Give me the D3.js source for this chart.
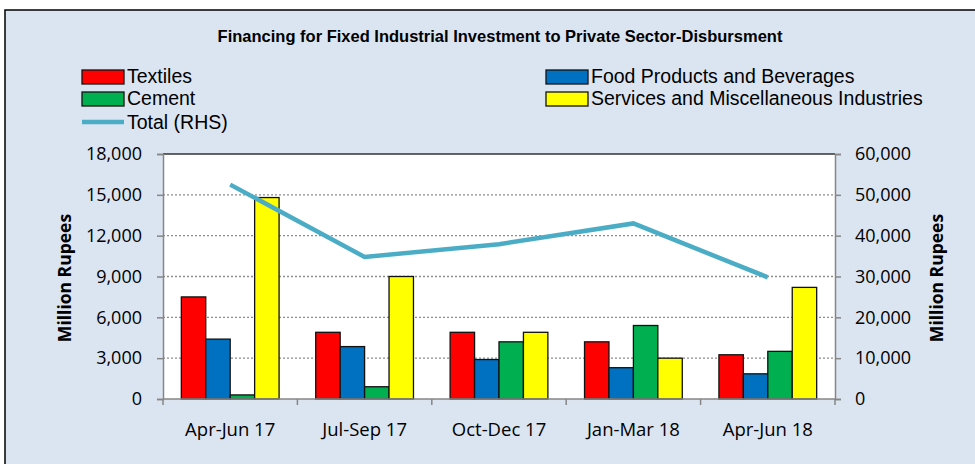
<!DOCTYPE html>
<html>
<head>
<meta charset="utf-8">
<script src="https://cdn.jsdelivr.net/npm/d3@7"></script>
<style>
  body { margin: 0; background: #fff; }
  .viz text { fill: #000; }
</style>
</head>
<body>
<div class="viz"></div>
<script>
// data
const quarters = ["Apr-Jun 17", "Jul-Sep 17", "Oct-Dec 17", "Jan-Mar 18", "Apr-Jun 18"];
const textiles = [7500, 4900, 4900, 4200, 3250];
const foodProducts = [4400, 3850, 2900, 2300, 1850];
const cement = [300, 900, 4200, 5400, 3500];
const services = [14800, 9000, 4900, 3000, 8200];
const totalRHS = [52500, 34800, 37900, 43000, 29800];
const leftTicks = [0, 3000, 6000, 9000, 12000, 15000, 18000];
const rightTicks = [0, 10000, 20000, 30000, 40000, 50000, 60000];

const series = [
    { name: "Textiles", values: textiles, color: "#ff0000" },
    { name: "Food Products and  Beverages", values: foodProducts, color: "#0070c0" },
    { name: "Cement", values: cement, color: "#00b050" },
    { name: "Services and Miscellaneous Industries", values: services, color: "#ffff00" }
];

const width = 975;
const height = 464;
const font = "'Liberation Sans', Arial, sans-serif";
const tickFont = "'Open Sans', 'Noto Sans', sans-serif";

const svg = d3.select(".viz")
    .append("svg")
    .attr("width", width)
    .attr("height", height);

// frame
svg.append("rect")
    .attr("x", 5).attr("y", 10)
    .attr("width", 1000).attr("height", 500)
    .attr("fill", "#dbe5f1")
    .attr("stroke", "#000")
    .attr("stroke-width", 1.5);

// title
svg.append("text")
    .attr("x", 500).attr("y", 42)
    .attr("text-anchor", "middle")
    .style("font-family", font)
    .style("font-weight", "bold")
    .style("font-size", "16.5px")
    .text("Financing for Fixed Industrial  Investment to  Private Sector-Disbursment");

const plot = { left: 163, right: 835, top: 154, bottom: 399 };

const x0 = d3.scaleBand()
    .domain(quarters)
    .range([plot.left, plot.right])
    .paddingInner(0)
    .paddingOuter(0);

// excel style gap width 150%
const barW = x0.bandwidth() / (series.length + 1.5);
const x1 = d3.scaleBand()
    .domain(series.map(d => d.name))
    .range([0, barW * series.length]);

const yL = d3.scaleLinear().domain([0, 18000]).range([plot.bottom, plot.top]);
const yR = d3.scaleLinear().domain([0, 60000]).range([plot.bottom, plot.top]);

// plot background
svg.append("rect")
    .attr("x", plot.left).attr("y", plot.top)
    .attr("width", plot.right - plot.left)
    .attr("height", plot.bottom - plot.top)
    .attr("fill", "#fff");

// gridlines
svg.selectAll(".grid")
    .data(leftTicks.filter(d => d > 0 && d < 18000))
    .enter()
    .append("line")
    .attr("x1", plot.left).attr("x2", plot.right)
    .attr("y1", d => yL(d)).attr("y2", d => yL(d))
    .attr("stroke", "#8c8c8c")
    .attr("stroke-width", 1.3)
    .attr("stroke-dasharray", "2,2");

svg.append("line")
    .attr("x1", plot.left).attr("x2", plot.right)
    .attr("y1", plot.top).attr("y2", plot.top)
    .attr("stroke", "#333")
    .attr("stroke-width", 1.3);

// bars
const groups = svg.selectAll(".group")
    .data(quarters)
    .enter()
    .append("g")
    .attr("transform", d => `translate(${x0(d) + barW * 0.75},0)`);

groups.selectAll("rect")
    .data((q, i) => series.map(s => ({ name: s.name, color: s.color, value: s.values[i] })))
    .enter()
    .append("rect")
    .attr("x", d => x1(d.name))
    .attr("y", d => yL(d.value))
    .attr("width", x1.bandwidth())
    .attr("height", d => yL(0) - yL(d.value))
    .attr("fill", d => d.color)
    .attr("stroke", "#111")
    .attr("stroke-width", 1.3);

// total line on right axis
const line = d3.line()
    .x((d, i) => x0(quarters[i]) + x0.bandwidth() / 2)
    .y(d => yR(d));

svg.append("path")
    .datum(totalRHS)
    .attr("d", line)
    .attr("fill", "none")
    .attr("stroke", "#4bacc6")
    .attr("stroke-width", 4.5);

// axes
const axisLeft = d3.axisLeft(yL)
    .tickValues(leftTicks)
    .tickSize(6)
    .tickPadding(15)
    .tickFormat(d3.format(","));
const axisRight = d3.axisRight(yR)
    .tickValues(rightTicks)
    .tickSize(6)
    .tickPadding(14)
    .tickFormat(d3.format(","));
const axisBottom = d3.axisBottom(x0)
    .tickSize(0)
    .tickPadding(24);

function styleAxis(g) {
    g.select(".domain").attr("stroke", "#868686").attr("stroke-width", 1.5);
    g.selectAll(".tick line").attr("stroke", "#868686").attr("stroke-width", 1.5);
    g.selectAll("text")
        .style("font-family", tickFont)
        .style("font-size", "18px")
        .attr("fill", "#000");
}

svg.append("g")
    .attr("transform", `translate(${plot.left},0)`)
    .call(axisLeft)
    .call(styleAxis);

svg.append("g")
    .attr("transform", `translate(${plot.right},0)`)
    .call(axisRight)
    .call(styleAxis);

const xg = svg.append("g")
    .attr("transform", `translate(0,${plot.bottom})`)
    .call(axisBottom)
    .call(styleAxis);
xg.select(".domain").attr("d", `M${plot.left},0H${plot.right}`);
xg.selectAll("text").style("font-size", "18.5px");

// category separators on x axis
svg.selectAll(".xsep")
    .data(quarters.concat(["end"]))
    .enter()
    .append("line")
    .attr("x1", (d, i) => plot.left + i * x0.bandwidth())
    .attr("x2", (d, i) => plot.left + i * x0.bandwidth())
    .attr("y1", plot.bottom).attr("y2", plot.bottom + 6)
    .attr("stroke", "#868686")
    .attr("stroke-width", 1.5);

// axis titles
svg.append("text")
    .attr("transform", "translate(71,278) rotate(-90)")
    .attr("text-anchor", "middle")
    .style("font-family", tickFont)
    .style("font-weight", "bold")
    .style("font-size", "17.5px")
    .text("Million Rupees");

svg.append("text")
    .attr("transform", "translate(943,278) rotate(-90)")
    .attr("text-anchor", "middle")
    .style("font-family", tickFont)
    .style("font-weight", "bold")
    .style("font-size", "17.5px")
    .text("Million Rupees");

// legend
const legendPos = [
    { x: 82, y: 70 },
    { x: 546, y: 70 },
    { x: 82, y: 92 },
    { x: 546, y: 92 }
];

const legend = svg.selectAll(".legend")
    .data(series)
    .enter()
    .append("g")
    .attr("transform", (d, i) => `translate(${legendPos[i].x},${legendPos[i].y})`);

legend.append("rect")
    .attr("width", 42).attr("height", 14)
    .attr("fill", d => d.color)
    .attr("stroke", "#111")
    .attr("stroke-width", 1.3);

legend.append("text")
    .attr("x", 45).attr("y", 13)
    .style("font-family", font)
    .style("font-size", "19.5px")
    .text(d => d.name);

const totalLegend = svg.append("g").attr("transform", "translate(82,114)");
totalLegend.append("line")
    .attr("x1", 0).attr("x2", 42)
    .attr("y1", 8).attr("y2", 8)
    .attr("stroke", "#4bacc6")
    .attr("stroke-width", 4.5);
totalLegend.append("text")
    .attr("x", 45).attr("y", 15)
    .style("font-family", font)
    .style("font-size", "19.5px")
    .text("Total (RHS)");
</script>
</body>
</html>
